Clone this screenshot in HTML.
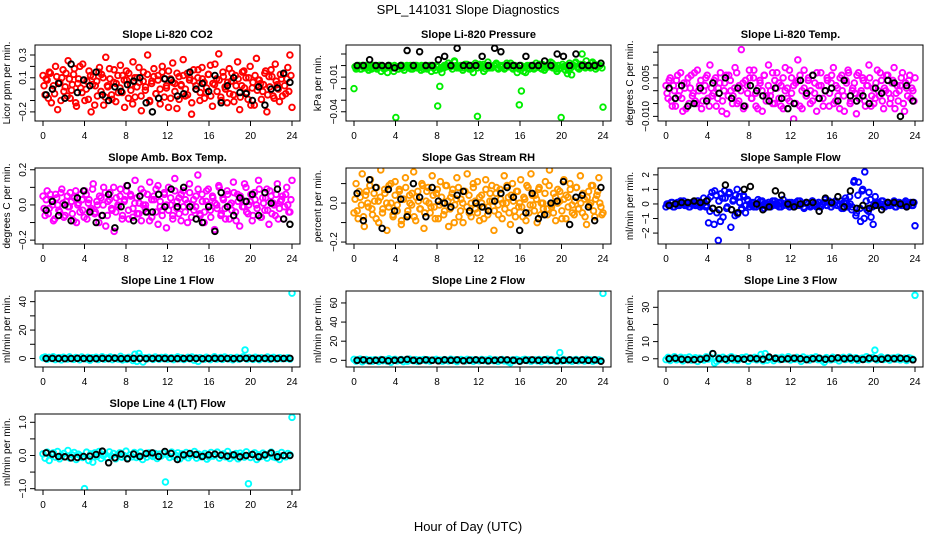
<!DOCTYPE html>
<html><head><meta charset="utf-8"><style>
html,body{margin:0;padding:0;background:#fff;}
svg{display:block;font-family:"Liberation Sans",sans-serif;}
</style></head><body>
<svg id="chart" width="936" height="540" viewBox="0 0 936 540">
<text x="468" y="14" text-anchor="middle" font-size="13">SPL_141031  Slope Diagnostics</text>
<text x="468" y="531" text-anchor="middle" font-size="13">Hour of Day (UTC)</text>
</svg>
<script>
// x axis ticks (hours)
const xTicks = [0,4,8,12,16,20,24];
// colored series values (raw units; multiplied by panel scale)
const co2Color = [12,-5,8,15,-12,3,20,-18,6,10,-2,14,25,-8,4,18,-15,9,1,22,-10,7,16,-20,11,3,-6,19,13,-14,28,2,9,-9,17,5,-3,21,12,-16,8,14,-1,24,-7,10,6,-19,15,2,30,-11,7,18,-4,12,-13,20,9,1,16,-8,23,5,-17,11,3,26,-6,14,8,-22,17,0,10,-10,19,6,-3,13,21,-15,4,9,31,-7,15,2,-12,18,7,-5,12,24,-18,3,16,10,-9,20,1,-14,27,8,5,-2,14,-20,11,17,-6,22,4,-11,9,13,-4,19,30,-16];
const co2Color2 = [3,9,-8,14,0,-4,11,6,-10,17,2,-6,9,-1,13,-12,5,20,-3,8,0,-9,12,4,-14,7,15,-2,10,-7,3,18,-5,6,-11,12,1,-3,8,16,-8,4,-13,10,2,19,-6,7,-1,13,-10,5,11,-4,8,0,15,-7,3,-16,9,6,-2,14,-9,4,12,0,-5,10,-12,7,3,17,-3,9,-8,1,13,-6,5,22,-2,8,-10,11,0,6,-4,14,-11,3,9,-7,15,1,-3,10,-14,6,12,-1,8,-9,4,16,-5,2,11,-8,7,0,13,-6,3,9,-2,12];
const co2Black = [-5,0,5,-8,22,-3,8,3,15,-5,-10,2,-2,4,7,10,-12,-20,-8,9,8,-6,-4,15,0,5,-2,12,-12,3,10,-3,-4,-10,2,-14,0,1,14,6];
const presColor = [-20,-3,-1,-3,0,-2,-1,-4,0,-2,-1,-3,0,-5,-1,-2,-6,0,-1,-5,-45,-3,-1,0,-4,-1,-2,0,-3,-1,0,-2,-4,-1,0,-3,-1,-5,-2,-4,-35,-18,-6,-2,0,2,-1,-3,4,0,-2,-1,-4,0,1,-2,-3,-6,0,-44,1,-2,-5,0,3,-1,-2,0,2,-3,-1,0,-2,2,-1,0,-3,-1,-6,-34,-22,-5,-6,-2,0,-1,-3,2,0,-2,1,-4,0,-1,3,-2,0,-5,-3,-45,-1,-4,-7,2,-8,0,3,-2,1,10,-1,4,0,-2,3,1,-1,0,2,-36];
const presColor2 = [-1,-2,0,-3,-1,0,-2,-1,-3,0,-1,-2,0,-1,-3,-2,0,-1,-2,0,-1,-3,0,-2,-1,0,-2,-3,-1,0,-2,-1,0,-3,-1,-2,0,-1,-2,0,-1,-3,-2,0,-1,2,-1,0,3,-2,-1,0,-2,1,-1,-3,0,-1,2,-2,0,-1,1,-3,0,-2,-1,0,1,-2,0,-1,-3,0,-1,2,-2,0,-1,-3,0,-2,-1,0,-3,-1,0,-2,-1,1,-3,0,-2,-1,0,2,-1,-3,0,-2,1,-1,0,-4,-2,0,2,-1,-3,0,1,-2,0,-1,2,0,-3,-1,0,-2];
const presBlack = [0,0,5,0,0,0,-2,0,13,0,12,0,0,5,8,0,15,0,0,0,8,0,15,12,0,0,0,8,0,0,4,0,10,8,0,10,0,0,0,2];
const tempColor = [2,-3,5,-6,0,4,-2,7,-8,1,3,-5,6,-1,-4,8,2,-7,0,5,-3,10,-2,4,-6,1,7,-4,3,-9,6,0,-2,9,-5,2,16,-7,4,-1,5,-3,8,-6,1,3,-8,6,-2,10,0,-5,4,7,-3,2,-7,9,1,-4,5,-11,3,12,-6,0,8,-2,4,-5,6,-1,-8,2,7,-3,0,5,-6,3,9,-4,1,-7,6,-2,4,8,-5,0,3,-9,7,-1,5,-4,2,10,-6,1,-3,8,-2,4,-7,0,6,-5,3,9,-1,-4,2,7,-8,1,4,-3,0,5];
const tempColor2 = [-1,4,-4,2,-6,6,0,-3,3,-7,5,1,-2,7,-5,0,4,-4,2,6,-6,1,-1,5,-3,3,-8,0,6,-2,4,-5,1,7,-4,0,3,-6,2,8,-3,5,-1,-7,4,0,6,-4,2,-2,7,-5,1,3,-6,5,0,-3,8,-1,2,-5,4,6,-7,1,-2,5,0,-4,3,7,-3,2,-6,0,4,-1,6,-5,2,-2,5,0,-8,3,7,-4,1,-1,6,-3,0,4,-6,2,5,-2,-5,3,0,7,-4,1,6,-1,-3,4,-7,2,0,5,-5,3,-2,6,1,-4];
const tempBlack = [1,-3,2,-6,-5,1,-4,3,-1,5,-3,1,-6,2,0,-2,-4,1,-3,-7,-5,4,-1,6,-3,0,1,-4,4,-2,-4,-2,-5,1,-1,4,3,-10,2,-4];
const ambColor = [5,-6,8,-2,3,-9,6,0,-4,9,-7,2,-1,7,-5,4,-10,1,6,-3,8,-8,3,-2,12,-4,0,5,-6,10,-12,2,7,-3,-15,4,-1,9,-6,3,11,-8,5,-2,14,-5,1,-9,7,0,-4,13,-7,3,9,-11,2,-3,6,-13,10,0,-6,15,-2,4,-9,8,-4,1,12,-7,3,-1,17,-5,6,-10,2,9,-3,5,-14,0,11,-6,4,-2,8,-8,1,13,-4,6,-12,3,-1,10,-5,2,-9,7,0,14,-7,4,-3,9,-11,5,1,-6,12,-2,3,-8,6,0,-4,14];
const ambColor2 = [-2,3,-5,6,0,-8,4,-3,7,1,-6,5,-1,2,-9,8,0,-4,3,-7,6,1,-3,9,-5,2,-10,4,0,7,-6,3,-2,10,-4,0,5,-8,2,8,-3,6,-7,1,4,-5,9,0,-2,6,-9,3,5,-4,11,-1,-6,7,0,-3,4,-8,8,2,-5,6,-1,3,-10,7,0,-3,5,9,-6,2,-4,8,0,-7,4,1,-2,10,-5,3,-8,6,0,-3,7,-9,2,5,-1,12,-4,0,6,-6,3,-2,9,-7,1,4,-3,8,-5,0,6,-8,2,5,-1,10,-4,3];
const ambBlack = [-3,2,-6,0,-9,4,8,-4,-10,-6,6,-13,-1,11,-9,5,-4,-4,6,-1,9,-1,10,-1,-8,-10,-1,-15,7,-1,-6,4,2,6,-6,7,1,9,-8,-11];
const rhColor = [-5,10,-8,3,15,-12,6,-2,12,-6,1,8,-10,17,-3,5,-14,9,0,-7,11,-4,7,-11,2,13,-6,4,-1,16,-9,6,-3,10,-13,1,8,-5,14,-2,5,-8,11,0,-4,9,-12,3,7,-1,13,-7,2,-10,6,15,-5,0,8,-3,11,-9,4,-2,12,-6,1,9,-14,5,-1,7,-8,14,0,3,-11,10,-4,6,-2,12,-7,2,9,-5,15,-1,4,-10,8,0,-3,11,-6,17,-2,5,-9,7,1,-4,12,-8,3,10,-1,-6,8,-3,14,-5,2,-11,6,0,9,-7,4,13,-2,-5];
const rhColor2 = [2,-4,6,-1,-7,4,0,9,-3,5,-8,1,3,-5,7,0,-2,10,-6,4,-1,6,-9,2,8,-4,0,5,-7,3,1,-3,9,-5,6,0,-2,4,-8,7,-1,3,-6,9,1,-3,5,-10,2,8,-4,0,6,-2,4,-7,10,1,-5,3,0,-8,7,-2,5,1,-4,8,-6,2,0,-3,9,-5,4,1,-7,6,0,-2,3,-9,8,-1,4,-4,2,7,-6,0,5,-3,9,-1,-5,3,0,6,-8,2,4,-2,7,-5,1,8,-3,0,5,-7,3,-1,9,-4,2,6,0,-6];
const rhBlack = [5,-9,12,8,-13,7,-4,2,-7,10,3,-7,8,1,0,-2,4,6,-4,0,-2,-4,1,5,8,3,-14,-5,5,-8,-6,0,1,11,-11,3,4,-2,-9,8];
const flowColor = [-2,0,-1,1,-2,0,-1,2,0,-1,1,-2,0,1,-1,2,0,-1,4,-2,3,-5,8,-14,6,-25,-12,4,9,-3,7,-16,2,-8,10,5,-4,6,-6,3,-2,1,-2,0,3,-1,2,-3,0,1,-2,2,0,-1,1,-2,3,0,-1,1,0,-2,1,-1,2,0,-3,1,0,-2,2,-1,0,1,-2,0,3,-1,1,-2,0,2,-1,0,-3,1,2,-1,0,-2,16,-6,15,-12,10,22,-4,8,-9,-14,5,0,-1,2,-2,0,1,-1,0,2,-2,1,0,-1,1,-2,0,1,-1,-15];
const flowColor2 = [0,-1,1,-2,0,1,-1,0,2,-1,0,-2,1,0,-1,2,-2,0,1,-1,-13,5,-3,9,-6,2,7,-9,4,-2,8,-4,3,6,-7,1,-3,5,-1,2,0,-1,1,-2,0,2,-1,0,-2,1,0,-1,2,0,-2,1,-1,0,1,-2,1,0,-1,2,-1,0,-2,1,0,-1,2,0,-2,1,-1,0,1,-1,2,-2,0,1,-1,0,2,-3,4,-2,5,-4,15,-8,6,-3,9,-10,2,-5,3,-2,0,1,-1,0,2,-2,1,-1,0,1,-2,0,1,-1,0,2,-1,0,-1,1];
const flowBlack = [-1,0,1,1,2,1,2,-3,-4,13,-4,-6,10,12,0,-4,-2,9,6,0,-2,0,1,1,-5,4,1,5,-2,9,-3,-1,-3,-1,-4,1,1,0,-2,1];
const line1Color = [5,10,-5,8,0,12,-8,3,6,-10,9,2,-4,11,0,-6,7,3,-9,10,1,-3,8,-12,5,0,9,-7,2,12,-5,4,-2,10,-8,6,0,-4,15,-10,3,-6,8,0,-14,30,-20,35,10,-25,5,-3,8,0,-6,10,2,-5,7,-1,9,-4,0,6,-8,3,11,-2,5,-7,0,8,-3,10,-12,4,-20,6,0,-5,9,2,-8,3,12,-4,0,7,-6,10,1,-3,6,-9,2,8,-5,0,11,60,-4,7,0,-6,9,3,-8,5,0,-2,10,-5,4,8,-3,0,6,-1,2,0,5,-4,460];
const line1Black = [0,1,0,-1,0,1,0,0,-1,1,0,2,-1,0,1,0,-1,0,1,0,0,-1,0,1,0,-2,0,1,0,0,-1,0,1,0,0,1,-1,0,0,1];
const line2Color = [10,-8,5,12,-15,0,8,-5,3,-10,6,0,-12,9,-3,5,-7,15,-20,4,10,-6,0,8,-14,3,-9,12,0,-5,7,-11,4,0,9,-3,6,-8,0,5,10,-4,2,-9,7,0,-6,11,-2,5,-13,3,8,0,-7,10,-3,4,-10,6,0,-5,9,-2,3,-8,12,0,-4,6,-11,2,8,-6,0,-15,-25,5,-3,9,0,-7,4,10,-2,6,-9,0,5,-4,8,-12,3,0,11,-5,7,-1,-8,4,80,-6,9,0,-3,6,-10,2,8,-4,0,5,-7,10,-2,3,-9,6,0,4,-3,700];
const line2Black = [0,5,-5,0,5,-5,0,5,10,0,-5,5,0,-5,5,0,5,-5,0,5,0,-5,0,5,5,0,-10,0,5,0,5,0,-5,0,5,0,5,0,5,-10];
const line3Color = [-5,8,-10,3,12,-6,0,9,-12,5,-3,10,-8,2,6,-15,4,0,-7,11,-2,8,30,-25,-15,6,-4,9,0,-10,5,12,-6,3,-9,0,7,-3,10,-14,4,-1,8,-6,2,25,-12,30,-8,5,0,-11,6,3,-5,9,-2,0,12,-7,4,-3,8,0,-15,10,-4,2,-8,6,0,11,-5,3,-10,-20,7,0,-6,9,-2,5,-12,3,8,-4,0,10,-7,2,6,-9,0,4,-3,12,-5,1,8,50,-6,2,10,-4,0,7,-8,3,5,-2,9,-6,0,4,-10,6,2,-3,370];
const line3Black = [0,3,-3,-5,-5,-3,3,30,0,-2,3,0,-3,3,0,-3,10,2,-3,0,3,0,-5,0,3,-3,0,5,0,3,0,-4,3,0,-3,3,0,3,0,-6];
const line4Color = [5,-8,10,-15,3,8,-5,12,-10,0,6,-4,15,-8,2,9,-12,4,0,-6,-100,10,-15,5,-20,8,-3,12,-9,0,4,-7,11,-2,6,-10,3,8,-5,0,13,-8,2,-4,9,-6,0,10,-12,3,-5,8,0,-3,6,-9,4,-1,7,-80,2,-6,10,-3,0,8,-10,5,-2,9,-7,0,3,12,-8,4,-4,0,6,-11,-5,9,-2,3,10,-8,0,5,-4,12,-9,2,-3,6,-10,7,0,-5,11,-85,-6,4,8,-12,2,-3,7,0,-8,5,10,-4,-6,3,-12,9,0,-4,6,2,115];
const line4Black = [8,4,-3,-4,-7,-6,-3,-2,3,13,-22,-7,4,-10,4,-3,6,8,-3,12,6,-12,2,6,3,-3,2,4,1,-2,2,-4,0,3,-4,2,8,-4,0,0];

const panels = [
 {name:'co2',title:'Slope Li-820 CO2',ylab:'Licor ppm per min.',col:0,row:0,ymin:-0.28,ymax:0.388,scale:0.01,ticks:[-0.2,-0.1,0,0.1,0.2,0.3],labels:[[-0.2,'\u22120.2'],[0.1,'0.1'],[0.3,'0.3']],color:'#ff0000',c:co2Color,c2:co2Color2,b:co2Black},
 {name:'pressure',title:'Slope Li-820 Pressure',ylab:'kPa per min.',col:1,row:0,ymin:-0.048,ymax:0.0178,scale:0.001,ticks:[-0.04,-0.03,-0.02,-0.01,0,0.01],labels:[[-0.04,'\u22120.04'],[-0.01,'\u22120.01']],color:'#00ee00',c:presColor,c2:presColor2,b:presBlack},
 {name:'li820-temp',title:'Slope Li-820 Temp.',ylab:'degrees C per min.',col:2,row:0,ymin:-0.0118,ymax:0.0178,scale:0.001,ticks:[-0.01,-0.005,0,0.005,0.01,0.015],labels:[[-0.01,'\u22120.010'],[0.005,'0.005']],color:'#ff00ff',c:tempColor,c2:tempColor2,b:tempBlack},
 {name:'amb-box-temp',title:'Slope Amb. Box Temp.',ylab:'degrees C per min.',col:0,row:1,ymin:-0.222,ymax:0.21,scale:0.01,ticks:[-0.2,-0.1,0,0.1,0.2],labels:[[-0.2,'\u22120.2'],[0,'0.0'],[0.2,'0.2']],color:'#ff00ff',c:ambColor,c2:ambColor2,b:ambBlack},
 {name:'gas-stream-rh',title:'Slope Gas Stream RH',ylab:'percent per min.',col:1,row:1,ymin:-0.21,ymax:0.18,scale:0.01,ticks:[-0.2,-0.1,0,0.1],labels:[[-0.2,'\u22120.2'],[0,'0.0']],color:'#ff9900',c:rhColor,c2:rhColor2,b:rhBlack},
 {name:'sample-flow',title:'Slope Sample Flow',ylab:'ml/min per min.',col:2,row:1,ymin:-2.75,ymax:2.47,scale:0.1,ticks:[-2,-1,0,1,2],labels:[[-2,'\u22122'],[-1,'\u22121'],[0,'0'],[1,'1'],[2,'2']],color:'#0000ff',c:flowColor,c2:flowColor2,b:flowBlack},
 {name:'line1-flow',title:'Slope Line 1 Flow',ylab:'ml/min per min.',col:0,row:2,ymin:-6,ymax:47.5,scale:0.1,ticks:[0,10,20,30,40],labels:[[0,'0'],[20,'20'],[40,'40']],color:'#00ffff',c:line1Color,c2:[],b:line1Black},
 {name:'line2-flow',title:'Slope Line 2 Flow',ylab:'ml/min per min.',col:1,row:2,ymin:-7,ymax:72.5,scale:0.1,ticks:[0,20,40,60],labels:[[0,'0'],[20,'20'],[40,'40'],[60,'60']],color:'#00ffff',c:line2Color,c2:[],b:line2Black},
 {name:'line3-flow',title:'Slope Line 3 Flow',ylab:'ml/min per min.',col:2,row:2,ymin:-4.8,ymax:39.5,scale:0.1,ticks:[0,10,20,30],labels:[[0,'0'],[10,'10'],[30,'30']],color:'#00ffff',c:line3Color,c2:[],b:line3Black},
 {name:'line4-flow',title:'Slope Line 4 (LT) Flow',ylab:'ml/min per min.',col:0,row:3,ymin:-1.04,ymax:1.25,scale:0.01,ticks:[-1,-0.5,0,0.5,1],labels:[[-1,'\u22121.0'],[0,'0.0'],[1,'1.0']],color:'#00ffff',c:line4Color,c2:[],b:line4Black}
];
const colLeft=[35,346,658], rowTop=[45,168,291,414], PW=265, PH=76;
const NS='http://www.w3.org/2000/svg';
const svg=document.getElementById('chart');
function mk(tag,attrs,parent){const e=document.createElementNS(NS,tag);for(const k in attrs)e.setAttribute(k,attrs[k]);parent.appendChild(e);return e;}
panels.forEach(p=>{
  const L=colLeft[p.col],T=rowTop[p.row],R=L+PW,B=T+PH;
  const xs=h=>L+8+h*(PW-16)/24;
  const ys=v=>B-(v-p.ymin)/(p.ymax-p.ymin)*PH;
  const g=mk('g',{},svg);
  
  
  const t=mk('text',{x:(L+R)/2,y:T-7,'text-anchor':'middle','font-size':11,'font-weight':'bold'},g);t.textContent=p.title;
  
  
  const yl=mk('text',{transform:`translate(${L-25},${(T+B)/2}) rotate(-90)`,'text-anchor':'middle','font-size':10},g);yl.textContent=p.ylab;
  
  
  xTicks.forEach(h=>{
    const x=xs(h);
    const tk=mk('line',{x1:x,x2:x,y1:B,y2:B+5,stroke:'#000','stroke-width':1},g);
    
    
    const tl=mk('text',{x:x,y:B+18,'text-anchor':'middle','font-size':10},g);tl.textContent=h;
    
    
  });
  p.ticks.forEach(v=>{
    const y=ys(v);
    const tk=mk('line',{x1:L-5,x2:L,y1:y,y2:y,stroke:'#000','stroke-width':1},g);
    
    
  });
  p.labels.forEach(([v,s])=>{
    const tl=mk('text',{transform:`translate(${L-9},${ys(v)}) rotate(-90)`,'text-anchor':'middle','font-size':10},g);tl.textContent=s;
    
    
  });
  const clip=mk('clipPath',{id:'clip-'+p.name},g);
  mk('rect',{x:L,y:T,width:PW,height:PH},clip);
  const pts=mk('g',{'clip-path':`url(#clip-${p.name})`},g);
  const nc=p.c.length;
  p.c.forEach((v,i)=>{
    const c=mk('circle',{cx:xs(i*24/(nc-1)),cy:ys(v*p.scale),r:2.8,fill:'none',stroke:p.color,'stroke-width':1.9},pts);
    
    
  });
  const n2=p.c2.length;
  p.c2.forEach((v,i)=>{
    const c=mk('circle',{cx:xs((i+0.5)*24/n2),cy:ys(v*p.scale),r:2.8,fill:'none',stroke:p.color,'stroke-width':1.9},pts);
    
    
  });
  const nb=p.b.length;
  p.b.forEach((v,i)=>{
    const c=mk('circle',{cx:xs(0.3+i*23.5/(nb-1)),cy:ys(v*p.scale),r:2.8,fill:'none',stroke:'#000','stroke-width':1.9},pts);
    
    
  });
  const box=mk('rect',{x:L,y:T,width:PW,height:PH,fill:'none',stroke:'#000','stroke-width':1},g);
  
  
});
</script>
</body></html>
